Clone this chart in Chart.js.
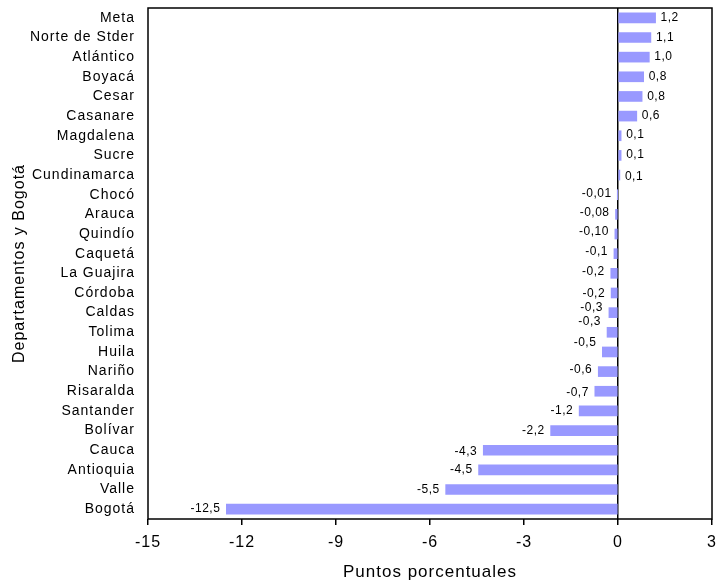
<!DOCTYPE html>
<html>
<head>
<meta charset="utf-8">
<script src="https://cdn.jsdelivr.net/npm/chart.js@4"></script>
<style>
  html, body { margin: 0; padding: 0; background: #fff; }
  #wrap { width: 716px; height: 583px; position: relative; }
</style>
</head>
<body>
<div id="wrap"><canvas id="c" width="716" height="583"></canvas></div>
<script>
const categories = ["Meta", "Norte de Stder", "Atlántico", "Boyacá", "Cesar", "Casanare", "Magdalena", "Sucre", "Cundinamarca", "Chocó", "Arauca", "Quindío", "Caquetá", "La Guajira", "Córdoba", "Caldas", "Tolima", "Huila", "Nariño", "Risaralda", "Santander", "Bolívar", "Cauca", "Antioquia", "Valle", "Bogotá"];
const values = [1.2, 1.05, 1.0, 0.82, 0.77, 0.6, 0.1, 0.1, 0.06, -0.01, -0.08, -0.10, -0.13, -0.23, -0.22, -0.29, -0.35, -0.5, -0.63, -0.74, -1.24, -2.15, -4.3, -4.45, -5.5, -12.5];
const valueLabels = ["1,2", "1,1", "1,0", "0,8", "0,8", "0,6", "0,1", "0,1", "0,1", "-0,01", "-0,08", "-0,10", "-0,1", "-0,2", "-0,2", "-0,3", "-0,3", "-0,5", "-0,6", "-0,7", "-1,2", "-2,2", "-4,3", "-4,5", "-5,5", "-12,5"];
const labelShift = [0, 0, 0, 0, 0, 0, -1, -1, 2, -1, -2, -2, -2, -2, 1, -5, -11, -9, -2, 1, 0, 0, 1, 0, 0, 0];
const xTicks = [-15, -12, -9, -6, -3, 0, 3];

const FONT = "'Liberation Sans', Arial, sans-serif";

function noPad(s) {
  s.paddingLeft = 0; s.paddingRight = 0; s.paddingTop = 0; s.paddingBottom = 0;
}

const framePlugin = {
  id: 'frame',
  beforeDraw(chart) {
    chart.ctx.letterSpacing = '1px';
  },
  beforeDatasetsDraw(chart) {
    chart.ctx.letterSpacing = '0px';
  },
  afterDatasetsDraw(chart) {
    const { ctx, chartArea: a } = chart;
    ctx.save();
    ctx.strokeStyle = '#000';
    ctx.lineWidth = 1.5;
    ctx.strokeRect(a.left, a.top, a.right - a.left, a.bottom - a.top);
    const meta = chart.getDatasetMeta(0);
    ctx.fillStyle = '#000';
    ctx.font = '12px ' + FONT;
    ctx.letterSpacing = '0.5px';
    ctx.textBaseline = 'middle';
    meta.data.forEach((bar, i) => {
      const v = values[i];
      const y = bar.y + labelShift[i];
      if (v >= 0) {
        ctx.textAlign = 'left';
        ctx.fillText(valueLabels[i], bar.x + 5, y);
      } else {
        ctx.textAlign = 'right';
        ctx.fillText(valueLabels[i], bar.x - 6, y);
      }
    });
    ctx.restore();
  }
};

new Chart(document.getElementById('c'), {
  type: 'bar',
  data: {
    labels: categories,
    datasets: [{
      data: values,
      backgroundColor: '#9999FF',
      borderWidth: 0,
      barThickness: 10
    }]
  },
  options: {
    indexAxis: 'y',
    responsive: false,
    animation: false,
    devicePixelRatio: 1,
    layout: { padding: { top: 8, right: 4, left: 0, bottom: 0 } },
    plugins: {
      legend: { display: false },
      tooltip: { enabled: false }
    },
    scales: {
      x: {
        type: 'linear',
        min: -15,
        max: 3,
        afterBuildTicks: (s) => { s.ticks = xTicks.map(v => ({ value: v })); },
        afterFit: (s) => { s.height = 64; noPad(s); },
        ticks: {
          color: '#000',
          font: { family: FONT, size: 16 },
          padding: 8,
          callback: (v) => String(v)
        },
        grid: {
          drawOnChartArea: true,
          color: (ctx) => (ctx.tick && ctx.tick.value === 0) ? '#000' : 'rgba(0,0,0,0)',
          tickColor: '#000',
          tickLength: 6,
          lineWidth: 1.5
        },
        border: { display: false },
        title: {
          display: true,
          text: 'Puntos porcentuales',
          color: '#000',
          font: { family: FONT, size: 17 },
          padding: { top: 0, bottom: 0 }
        }
      },
      y: {
        afterFit: (s) => { s.width = 148; noPad(s); },
        ticks: {
          color: '#000',
          font: { family: FONT, size: 14 },
          padding: 13,
          autoSkip: false
        },
        grid: { display: false, drawTicks: false },
        border: { display: false },
        title: {
          display: true,
          text: 'Departamentos y Bogotá',
          color: '#000',
          font: { family: FONT, size: 16 },
          padding: { top: 10, bottom: 0 }
        }
      }
    }
  },
  plugins: [framePlugin]
});
</script>
</body>
</html>
